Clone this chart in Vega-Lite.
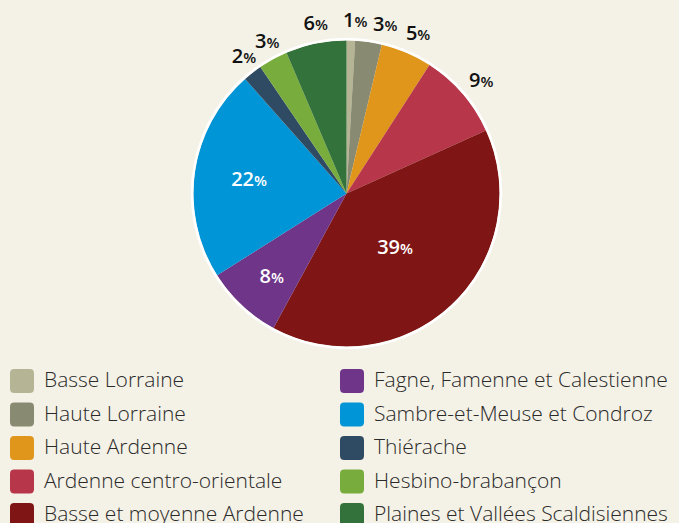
{
  "$schema": "https://vega.github.io/schema/vega-lite/v6.json",
  "width": 665,
  "height": 387,
  "padding": {"left": 10, "top": 0, "right": 0, "bottom": 0},
  "background": "#f4f1e6",
  "view": {"stroke": null},
  "config": {"font": "Open Sans"},
  "data": {
    "values": [
      {"idx": 1, "region": "Basse Lorraine", "value": 0.9, "label": "1"},
      {"idx": 2, "region": "Haute Lorraine", "value": 2.8, "label": "3"},
      {"idx": 3, "region": "Haute Ardenne", "value": 5.4, "label": "5"},
      {"idx": 4, "region": "Ardenne centro-orientale", "value": 9.1, "label": "9"},
      {"idx": 5, "region": "Basse et moyenne Ardenne", "value": 39.6, "label": "39"},
      {"idx": 6, "region": "Fagne, Famenne et Calestienne", "value": 8.1, "label": "8"},
      {"idx": 7, "region": "Sambre-et-Meuse et Condroz", "value": 22.4, "label": "22"},
      {"idx": 8, "region": "Thiérache", "value": 2.0, "label": "2"},
      {"idx": 9, "region": "Hesbino-brabançon", "value": 3.1, "label": "3"},
      {"idx": 10, "region": "Plaines et Vallées Scaldisiennes", "value": 6.4, "label": "6"}
    ]
  },
  "encoding": {
    "theta": {"field": "value", "type": "quantitative", "stack": true},
    "order": {"field": "idx", "type": "quantitative"}
  },
  "layer": [
    {
      "mark": {"type": "arc", "outerRadius": 153, "strokeWidth": 0},
      "encoding": {
        "color": {
          "field": "region",
          "type": "nominal",
          "scale": {
            "domain": ["Basse Lorraine", "Haute Lorraine", "Haute Ardenne", "Ardenne centro-orientale", "Basse et moyenne Ardenne", "Fagne, Famenne et Calestienne", "Sambre-et-Meuse et Condroz", "Thiérache", "Hesbino-brabançon", "Plaines et Vallées Scaldisiennes"],
            "range": ["#b5b495", "#898a72", "#e0961a", "#b8364a", "#7f1514", "#6f3589", "#0095d6", "#2f4a63", "#78ad3e", "#33733b"]
          },
          "legend": {
            "orient": "none",
            "legendX": -4,
            "legendY": 369,
            "title": null,
            "columns": 2,
            "gridAlign": "each",
            "columnPadding": 36,
            "rowPadding": 9.5,
            "padding": 0,
            "symbolType": "M-0.65,-1H0.65Q1,-1,1,-0.65V0.65Q1,1,0.65,1H-0.65Q-1,1,-1,0.65V-0.65Q-1,-1,-0.65,-1Z",
            "symbolSize": 576,
            "symbolStrokeWidth": 0,
            "symbolOpacity": 1,
            "labelOffset": 10,
            "labelFontSize": 21,
            "labelFont": "Open Sans",
            "labelFontWeight": 300,
            "labelColor": "#2a2a2a",
            "labelLimit": 400
          }
        }
      }
    },
    {
      "transform": [{"aggregate": [{"op": "sum", "field": "value", "as": "total"}]}],
      "mark": {"type": "arc", "outerRadius": 154.5, "filled": false, "stroke": "white", "strokeWidth": 2.5},
      "encoding": {
        "theta": {"field": "total", "type": "quantitative", "stack": true},
        "order": null
      }
    },
    {
      "mark": {"type": "text", "align": "right", "baseline": "middle", "dx": 3, "fontSize": 20, "fontWeight": 600, "color": "white"},
      "encoding": {
        "radius": {"field": "value", "type": "quantitative", "scale": {"type": "linear", "domain": [8, 39], "range": [115, 75], "zero": false}, "legend": null},
        "text": {"condition": {"test": "datum.value >= 10 || datum.idx == 6", "field": "label"}, "value": ""}
      }
    },
    {
      "mark": {"type": "text", "align": "left", "baseline": "middle", "dx": 3, "dy": 1, "fontSize": 15, "fontWeight": 600, "color": "white"},
      "encoding": {
        "radius": {"field": "value", "type": "quantitative", "scale": {"type": "linear", "domain": [8, 39], "range": [115, 75], "zero": false}, "legend": null},
        "text": {"condition": {"test": "datum.value >= 10 || datum.idx == 6", "value": "%"}, "value": ""}
      }
    },
    {
      "mark": {"type": "text", "align": "right", "baseline": "middle", "dx": 3, "fontSize": 20, "fontWeight": 600, "color": "#111111", "radius": 173},
      "encoding": {
        "text": {"condition": {"test": "datum.value >= 10 || datum.idx == 6 || datum.idx == 2", "value": ""}, "field": "label"}
      }
    },
    {
      "mark": {"type": "text", "align": "left", "baseline": "middle", "dx": 3, "dy": 1, "fontSize": 15, "fontWeight": 600, "color": "#111111", "radius": 173},
      "encoding": {
        "text": {"condition": {"test": "datum.value >= 10 || datum.idx == 6 || datum.idx == 2", "value": ""}, "value": "%"}
      }
    },
    {
      "mark": {"type": "text", "align": "right", "baseline": "middle", "dx": 13, "dy": 3, "fontSize": 20, "fontWeight": 600, "color": "#111111", "radius": 173},
      "encoding": {
        "text": {"condition": {"test": "datum.idx == 2", "field": "label"}, "value": ""}
      }
    },
    {
      "mark": {"type": "text", "align": "left", "baseline": "middle", "dx": 13, "dy": 4, "fontSize": 15, "fontWeight": 600, "color": "#111111", "radius": 173},
      "encoding": {
        "text": {"condition": {"test": "datum.idx == 2", "value": "%"}, "value": ""}
      }
    }
  ]
}
